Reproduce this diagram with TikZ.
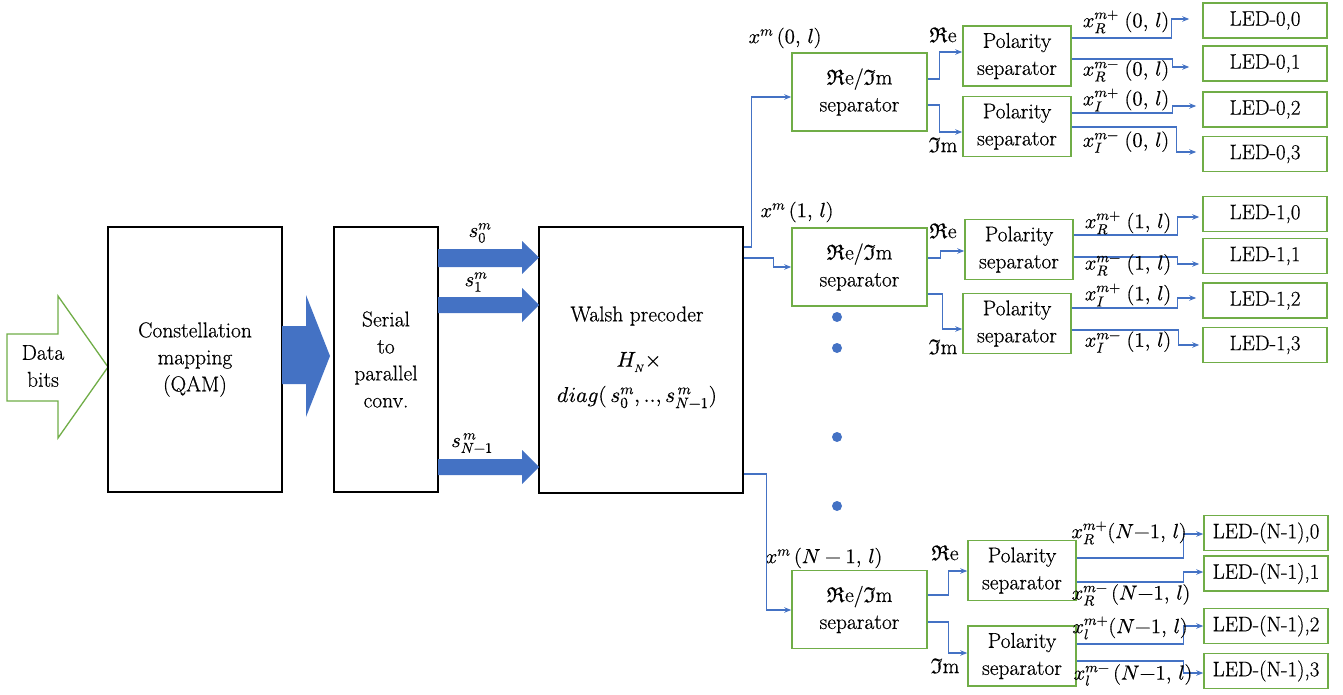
\documentclass[tikz,border=0pt]{standalone}
\usepackage{fontspec}
\usepackage{unicode-math}
\setmainfont{Latin Modern Roman}
\setmathfont{Latin Modern Math}[FakeBold=0.4]
\usetikzlibrary{arrows.meta,calc}
\definecolor{ogreen}{HTML}{70AD47}
\definecolor{oblue}{HTML}{4472C4}
\newfontfamily\heavyrm{Latin Modern Roman}[FakeBold=0.5]
\newcommand\ftxt{\heavyrm\fontsize{21.5}{27}\selectfont}
\newcommand\flab{\heavyrm\fontsize{20.5}{24}\selectfont}
\begin{document}
\begin{tikzpicture}[x=1pt,y=-1pt,
  blkbox/.style={draw=black,line width=1.3pt,fill=white,align=center,font=\ftxt,inner sep=0pt},
  grnbox/.style={draw=ogreen,line width=1.5pt,fill=white,align=center,font=\ftxt,inner sep=0pt},
  rebox/.style={grnbox,minimum width=135pt,minimum height=78pt},
  polbox/.style={grnbox,minimum width=108pt,minimum height=60pt},
  ledbox/.style={grnbox,minimum width=124pt,minimum height=35pt,font=\heavyrm\fontsize{21}{24}\selectfont},
  conn/.style={draw=oblue,line width=1.2pt,-{Stealth[length=7pt,width=5.5pt]}},
  lab/.style={font=\flab,inner sep=0pt},
  fat/.style={fill=oblue,draw=none},
  dotc/.style={fill=oblue,draw=none}
]
\useasboundingbox (0,0) rectangle (1343,695);

% Data bits arrow
\draw[ogreen,line width=1.3pt,fill=white] (7,334) -- (58,334) -- (58,296) -- (108,367) -- (58,438) -- (58,401) -- (7,401) -- cycle;
\node[font=\ftxt,align=center,inner sep=0pt] (data) at (43,366) {Data\\bits};

% main blocks
\node[blkbox,minimum width=174pt,minimum height=265pt] (const) at (195,359.5) {Constellation\\mapping\\(QAM)};
\node[blkbox,minimum width=104pt,minimum height=265pt] (serial) at (386,359.5) {Serial\\to\\parallel\\conv.};
\node[blkbox,minimum width=204pt,minimum height=266pt] (walsh) at (641,360) {};
\node[font=\ftxt,inner sep=0pt] (wt1) at (637,316) {Walsh precoder};
\node[lab,font=\ftxt] (wt2) at (639,362) {$H_{\scriptscriptstyle N}\times$};
\node[lab,font=\ftxt] (wt3) at (637,397) {$diag(\,s_0^m,..,s^{\,m}_{N-1})$};

% fat arrow const -> serial
\fill[fat] (282,326) -- (306,326) -- (306,295) -- (330,356) -- (306,417) -- (306,384) -- (282,384) -- cycle;

% fat arrows serial -> walsh
\fill[fat] (438,249) -- (522,249) -- (522,241) -- (539,257.5) -- (522,274) -- (522,267) -- (438,267) -- cycle;
\fill[fat] (438,297) -- (522,297) -- (522,288) -- (539,305) -- (522,322) -- (522,313) -- (438,313) -- cycle;
\fill[fat] (438,459) -- (522,459) -- (522,450) -- (539,467) -- (522,484) -- (522,475) -- (438,475) -- cycle;
\node[lab] (s0) at (480,233) {$s_0^m$};
\node[lab] (s1) at (476,282) {$s_1^m$};
\node[lab] (sN) at (472,443) {$s^{\,m}_{N-1}$};

% Re/Im separators
\node[rebox] (re0) at (859.5,92) {$\mathfrak{R}$e/$\mathfrak{I}$m\\separator};
\node[rebox] (re1) at (859.5,267) {$\mathfrak{R}$e/$\mathfrak{I}$m\\separator};
\node[rebox] (reN) at (859.5,609.5) {$\mathfrak{R}$e/$\mathfrak{I}$m\\separator};
\node[lab] (lx0) at (785,38) {$x^m\,(0,\,l)$};
\node[lab] (lx1) at (797,212) {$x^m\,(1,\,l)$};
\node[lab] (lxN) at (824,558) {$x^m\,(N-1,\,l)$};

% dots
\foreach \yy in {317,348,437,506}
  \fill[dotc] (837,\yy) circle (5pt);

% Walsh -> Re/Im
\draw[conn] ($(walsh.east)+(0,-113)$) -- ++(8,0) |- ($(re0.west)+(0,5)$);
\draw[conn] ($(walsh.east)+(0,-102)$) -- ++(30,0) |- (re1.west);
\draw[conn] ($(walsh.east)+(0,114)$) -- ++(23,0) |- ($(reN.west)+(0,0.5)$);

% Polarity separators
\node[polbox] (p0a) at (1017,56) {Polarity\\separator};
\node[polbox] (p0b) at (1017,126.5) {Polarity\\separator};
\node[polbox] (p1a) at (1019,249.5) {Polarity\\separator};
\node[polbox] (p1b) at (1017,323.5) {Polarity\\separator};
\node[polbox] (pNa) at (1022,570.5) {Polarity\\separator};
\node[polbox] (pNb) at (1022,656) {Polarity\\separator};

% Re/Im -> Polarity
\draw[conn] ($(re0.east)+(0,-13)$) -- ++(12,0) |- ($(p0a.west)+(0,-4)$);
\draw[conn] ($(re0.east)+(0,13)$) -- ++(12,0) |- ($(p0b.west)+(0,5.5)$);
\draw[conn] ($(re1.east)+(0,-9)$) -- ++(13,0) |- ($(p1a.west)+(0,1.5)$);
\draw[conn] ($(re1.east)+(0,27)$) -- ++(15,0) |- ($(p1b.west)+(0,5.5)$);
\draw[conn] ($(reN.east)+(0,-14.5)$) -- ++(21,0) |- ($(pNa.west)+(0,0.5)$);
\draw[conn] ($(reN.east)+(0,12.5)$) -- ++(21,0) |- ($(pNb.west)+(0,-3)$);
\node[lab,font=\ftxt] (re0l) at (943,35) {$\mathfrak{R}$e};
\node[lab,font=\ftxt] (im0l) at (943,145) {$\mathfrak{I}$m};
\node[lab,font=\ftxt] (re1l) at (943,231) {$\mathfrak{R}$e};
\node[lab,font=\ftxt] (im1l) at (943,347) {$\mathfrak{I}$m};
\node[lab,font=\ftxt] (reNl) at (945,553) {$\mathfrak{R}$e};
\node[lab,font=\ftxt] (imNl) at (945,666) {$\mathfrak{I}$m};

% LEDs
\node[ledbox] (led00) at (1265,20.5) {LED-0,0};
\node[ledbox] (led01) at (1265,63.5) {LED-0,1};
\node[ledbox] (led02) at (1265,109.5) {LED-0,2};
\node[ledbox] (led03) at (1265,154) {LED-0,3};
\node[ledbox] (led10) at (1265,214) {LED-1,0};
\node[ledbox] (led11) at (1265,256) {LED-1,1};
\node[ledbox] (led12) at (1265,300.5) {LED-1,2};
\node[ledbox] (led13) at (1265,345) {LED-1,3};
\node[ledbox] (ledN0) at (1266,533) {LED-(N-1),0};
\node[ledbox] (ledN1) at (1266,573.5) {LED-(N-1),1};
\node[ledbox] (ledN2) at (1266,626) {LED-(N-1),2};
\node[ledbox] (ledN3) at (1266,671) {LED-(N-1),3};

% Polarity -> LED, row 0
\draw[conn] ($(p0a.east)+(0,-18)$) -- ++(100,0) |- ($(led00.west)+(-13,-1.5)$);
\draw[conn] ($(p0a.east)+(0,3)$) -- ++(101,0) |- ($(led01.west)+(-13,3.5)$);
\draw[conn] ($(p0b.east)+(0,-13.5)$) -- ++(101,0) |- ($(led02.west)+(-6,-3.5)$);
\draw[conn] ($(p0b.east)+(0,0.5)$) -- ++(105,0) |- ($(led03.west)+(-6,-2)$);
% row 1
\draw[conn] ($(p1a.east)+(0,-14.5)$) -- ++(104,0) |- ($(led10.west)+(-3,3)$);
\draw[conn] ($(p1a.east)+(0,7.5)$) -- ++(104,0) |- ($(led11.west)+(-3,8)$);
\draw[conn] ($(p1b.east)+(0,-15.5)$) -- ++(106,0) |- ($(led12.west)+(-6,-2.5)$);
\draw[conn] ($(p1b.east)+(0,6.5)$) -- ++(107,0) |- ($(led13.west)+(-3,0)$);
% row N-1
\draw[conn] ($(pNa.east)+(0,-12.5)$) -- ++(107,0) |- ($(ledN0.west)+(0,1)$);
\draw[conn] ($(pNa.east)+(0,11.5)$) -- ++(107,0) |- ($(ledN1.west)+(0,-1.5)$);
\draw[conn] ($(pNb.east)+(0,-12)$) -- ++(107,0) |- (ledN2.west);
\draw[conn] ($(pNb.east)+(0,5)$) -- ++(107,0) |- ($(ledN3.west)+(0,2)$);

% output labels
\node[lab] (l00) at (1126,22) {$x_R^{m+}\;(0,\,l)$};
\node[lab] (l01) at (1126,71) {$x_R^{m-}\;(0,\,l)$};
\node[lab] (l02) at (1126,100) {$x_I^{m+}\;(0,\,l)$};
\node[lab] (l03) at (1126,142) {$x_I^{m-}\;(0,\,l)$};
\node[lab] (l10) at (1128,223) {$x_R^{m+}\;(1,\,l)$};
\node[lab] (l11) at (1128,265) {$x_R^{m-}\;(1,\,l)$};
\node[lab] (l12) at (1128,295) {$x_I^{m+}\;(1,\,l)$};
\node[lab] (l13) at (1128,342) {$x_I^{m-}\;(1,\,l)$};
\node[lab] (lN0) at (1129,533) {$x_R^{m+}(N{-}1,\,l)$};
\node[lab] (lN1) at (1131,595) {$x_R^{m-}\,(N{-}1,\,l)$};
\node[lab] (lN2) at (1130,628) {$x_l^{m+}(N{-}1,\,l)$};
\node[lab] (lN3) at (1133,675) {$x_l^{m-}\,(N{-}1,\,l)$};
\end{tikzpicture}
\end{document}
